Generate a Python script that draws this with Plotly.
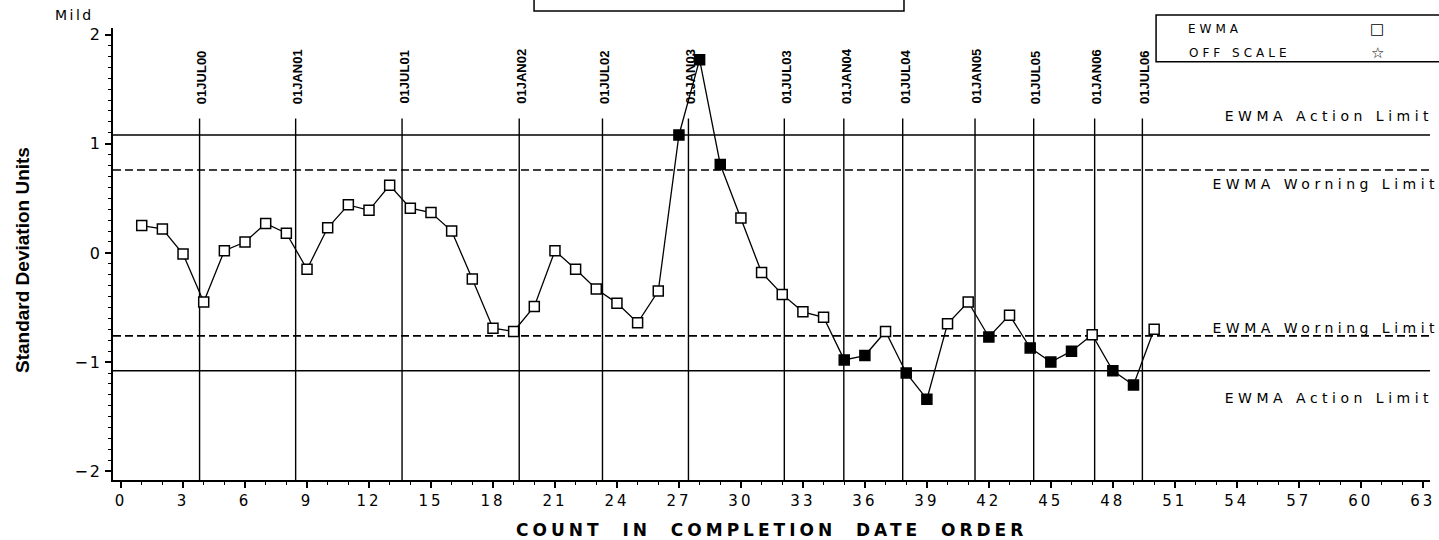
import plotly.graph_objects as go

# ---------------- data ----------------
count = list(range(1, 51))
ewma = [0.25, 0.22, -0.01, -0.45, 0.02, 0.10, 0.27, 0.18, -0.15, 0.23,
        0.44, 0.39, 0.62, 0.41, 0.37, 0.20, -0.24, -0.69, -0.72, -0.49,
        0.02, -0.15, -0.33, -0.46, -0.64, -0.35, 1.08, 1.77, 0.81, 0.32,
        -0.18, -0.38, -0.54, -0.59, -0.98, -0.94, -0.72, -1.10, -1.34, -0.65,
        -0.45, -0.77, -0.57, -0.87, -1.00, -0.90, -0.75, -1.08, -1.21, -0.70]

date_labels = ["01JUL00", "01JAN01", "01JUL01", "01JAN02", "01JUL02", "01JAN03",
               "01JUL03", "01JAN04", "01JUL04", "01JAN05", "01JUL05", "01JAN06",
               "01JUL06"]
date_pos = [3.8, 8.45, 13.6, 19.27, 23.3, 27.46, 32.1, 34.98, 37.83, 41.33,
            44.17, 47.12, 49.43]

action_limit = 1.08
warning_limit = 0.76
limit_labels = ["EWMA Action Limit", "EWMA Worning Limit",
                "EWMA Worning Limit", "EWMA Action Limit"]
limit_values = [action_limit, warning_limit, -warning_limit, -action_limit]

legend_labels = ["EWMA", "OFF SCALE"]
legend_symbols = ["\u25a1", "\u2606"]

x_title = "COUNT\u00a0\u00a0IN\u00a0\u00a0COMPLETION\u00a0\u00a0DATE\u00a0\u00a0ORDER"
y_title = "Standard Deviation Units"
corner_text = "Mild"

X_RANGE = [-0.39, 63.35]
Y_RANGE = [-2.08, 2.06]
DATE_LINE_TOP = 1.23

# ---------------- figure ----------------
fig = go.Figure()

# vertical date reference lines
lx, ly = [], []
for p in date_pos:
    lx += [p, p, None]
    ly += [Y_RANGE[0], DATE_LINE_TOP, None]
fig.add_trace(go.Scatter(x=lx, y=ly, mode="lines",
                         line=dict(color="black", width=1.4),
                         hoverinfo="skip", showlegend=False))

# EWMA series
fills = ["black" if abs(v) > warning_limit else "white" for v in ewma]
fig.add_trace(go.Scatter(
    x=count, y=ewma, mode="lines+markers", name="EWMA",
    line=dict(color="black", width=1.3),
    marker=dict(symbol="square", size=10, color=fills,
                line=dict(color="black", width=1.5)),
    showlegend=False))

shapes = []
for v, dash in zip(limit_values, ["solid", "8px,4px", "8px,4px", "solid"]):
    shapes.append(dict(type="line", xref="x domain", x0=0, x1=1, yref="y",
                       y0=v, y1=v, layer="below",
                       line=dict(color="black", width=1.6, dash=dash)))

# top-middle box (cropped) and legend box
shapes.append(dict(type="rect", xref="paper", yref="paper",
                   x0=0.3197, x1=0.6006, y0=1.0376, y1=1.2,
                   line=dict(color="black", width=1.5)))
shapes.append(dict(type="rect", xref="paper", yref="paper",
                   x0=0.792, x1=1.02, y0=0.9255, y1=1.0288,
                   line=dict(color="black", width=1.5)))

annotations = []
for lab, p in zip(date_labels, date_pos):
    annotations.append(dict(x=p, y=1.345, xref="x", yref="y", text="<b>" + lab + "</b>",
                            textangle=-90, showarrow=False, xanchor="center",
                            yanchor="bottom", xshift=2,
                            font=dict(family="Liberation Sans Narrow, Liberation Sans, Arial, sans-serif",
                                      size=13, color="black")))

shifts = [19, -14, 8, -27]
label_cx = [0.923, 0.921, 0.921, 0.923]
for lab, v, s, cx in zip(limit_labels, limit_values, shifts, label_cx):
    annotations.append(dict(x=cx, y=v, xref="paper", yref="y", text=lab,
                            showarrow=False, xanchor="center", yanchor="middle",
                            yshift=s, font=dict(family="DejaVu Sans", size=14,
                                                color="black")))

leg_y = [0.9978, 0.9447]
leg_cx = [0.8368, 0.8561]
for lab, sym, yy, cx in zip(legend_labels, legend_symbols, leg_y, leg_cx):
    annotations.append(dict(x=cx, y=yy, xref="paper", yref="paper", text=lab,
                            showarrow=False, xanchor="center", yanchor="middle",
                            font=dict(family="DejaVu Sans", size=12, color="black")))
    annotations.append(dict(x=0.9598, y=yy, xref="paper", yref="paper", text=sym,
                            showarrow=False, xanchor="center", yanchor="middle",
                            font=dict(family="DejaVu Sans", size=15, color="black")))

annotations.append(dict(x=-0.0296, y=1.0288, xref="paper", yref="paper", text=corner_text,
                        showarrow=False, xanchor="center", yanchor="middle",
                        font=dict(family="DejaVu Sans", size=14, color="black")))

# axis titles
annotations.append(dict(x=0.5, y=-0.1106, xref="paper", yref="paper",
                        text="<b>" + x_title + "</b>", showarrow=False,
                        xanchor="center", yanchor="middle",
                        font=dict(family="DejaVu Sans", size=17, color="black")))
annotations.append(dict(x=-0.0691, y=0.4867, xref="paper", yref="paper",
                        text="<b>" + y_title + "</b>", showarrow=False,
                        textangle=-90, xanchor="center", yanchor="middle",
                        font=dict(family="Liberation Sans Narrow, Arial Narrow, Liberation Sans, sans-serif",
                                  size=19, color="black")))

fig.update_layout(
    template="none",
    width=1439, height=540, autosize=False,
    margin=dict(l=113, r=9, t=28, b=60),
    paper_bgcolor="white", plot_bgcolor="white",
    showlegend=False,
    shapes=shapes, annotations=annotations,
    font=dict(family="DejaVu Sans", color="black"),
    xaxis=dict(range=X_RANGE, tickmode="linear", tick0=0, dtick=3,
               automargin=False,
               ticks="outside", ticklen=6, tickwidth=1.5, tickcolor="black",
               showline=True, linewidth=1.5, linecolor="black",
               showgrid=False, zeroline=False,
               minor=dict(dtick=1, tick0=0, ticks="outside", ticklen=3,
                          tickwidth=1, tickcolor="black", showgrid=False),
               tickfont=dict(family="DejaVu Sans", size=15, color="black")),
    yaxis=dict(range=Y_RANGE, tickmode="linear", tick0=0, dtick=1,
               automargin=False,
               ticks="outside", ticklen=6, tickwidth=1.5, tickcolor="black",
               showline=True, linewidth=1.5, linecolor="black",
               showgrid=False, zeroline=False,
               minor=dict(dtick=0.1, tick0=0, ticks="outside", ticklen=3,
                          tickwidth=1, tickcolor="black", showgrid=False),
               tickfont=dict(family="DejaVu Sans", size=16, color="black")),
)

post = """
document.body.style.margin = '0';
document.body.style.overflow = 'hidden';
var gd = document.getElementById('{plot_id}');
function sp(sel, v){ gd.querySelectorAll(sel).forEach(function(t){ t.style.letterSpacing = v; }); }
sp('.xtick text', '3px');
sp('.ytick text', '2px');
gd.querySelectorAll('.annotation-text').forEach(function(t){
  var s = t.textContent;
  if (s.indexOf('Limit') >= 0) t.style.letterSpacing = '4.5px';
  else if (s.indexOf('COUNT') === 0) t.style.letterSpacing = '4px';
  else if (s === 'EWMA' || s === 'OFF SCALE') t.style.letterSpacing = '4px';
  else if (s === 'Mild') t.style.letterSpacing = '2.5px';
});
"""

fig.write_html("out.html", post_script=post,
               config={"responsive": False, "displayModeBar": False})
